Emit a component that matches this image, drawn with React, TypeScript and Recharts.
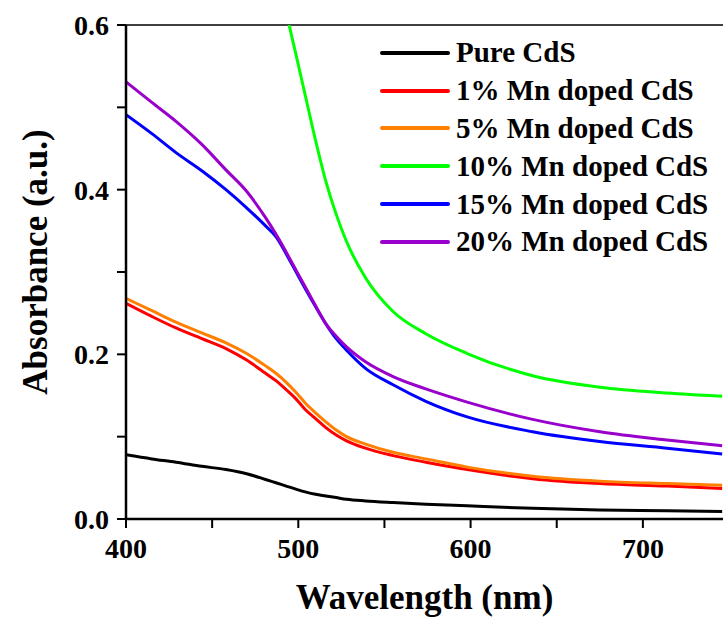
import { LineChart, Line, XAxis, YAxis, Legend, ReferenceLine, Label } from 'recharts'

const wavelength = [400, 415, 429, 444, 458, 470, 481, 487, 493, 499, 504, 510, 516, 522, 528, 539, 555, 574, 598, 636, 675, 714, 746]

const pure = [0.078, 0.073, 0.069, 0.064, 0.06, 0.055, 0.048, 0.044, 0.04, 0.036, 0.033, 0.03, 0.028, 0.026, 0.024, 0.022, 0.02, 0.018, 0.016, 0.013, 0.011, 0.01, 0.009]
const mn1 = [0.262, 0.246, 0.232, 0.219, 0.207, 0.193, 0.177, 0.168, 0.157, 0.145, 0.133, 0.122, 0.111, 0.102, 0.095, 0.086, 0.077, 0.069, 0.06, 0.049, 0.043, 0.04, 0.037]
const mn5 = [0.268, 0.253, 0.239, 0.226, 0.214, 0.201, 0.186, 0.177, 0.166, 0.153, 0.141, 0.129, 0.118, 0.108, 0.1, 0.091, 0.081, 0.073, 0.063, 0.052, 0.046, 0.043, 0.041]
const mn10 = [null, null, null, null, null, null, null, 0.668, 0.615, 0.561, 0.515, 0.46, 0.41, 0.37, 0.337, 0.293, 0.252, 0.225, 0.201, 0.174, 0.16, 0.153, 0.149]
const mn15 = [0.491, 0.468, 0.445, 0.423, 0.4, 0.378, 0.356, 0.343, 0.322, 0.299, 0.28, 0.258, 0.237, 0.219, 0.205, 0.183, 0.163, 0.143, 0.124, 0.106, 0.094, 0.086, 0.079]
const mn20 = [0.531, 0.506, 0.483, 0.455, 0.424, 0.398, 0.366, 0.346, 0.324, 0.301, 0.282, 0.259, 0.237, 0.222, 0.209, 0.191, 0.173, 0.158, 0.142, 0.121, 0.106, 0.096, 0.089]

const xTicks = [400, 450, 500, 550, 600, 650, 700]
const yTicks = [0, 0.1, 0.2, 0.3, 0.4, 0.5, 0.6]

const series = [
  { key: 'pure', name: 'Pure CdS', color: '#000000', values: pure },
  { key: 'mn1', name: '1% Mn doped CdS', color: '#ff0000', values: mn1 },
  { key: 'mn5', name: '5% Mn doped CdS', color: '#ff7f00', values: mn5 },
  { key: 'mn10', name: '10% Mn doped CdS', color: '#00ff00', values: mn10 },
  { key: 'mn15', name: '15% Mn doped CdS', color: '#0000ff', values: mn15 },
  { key: 'mn20', name: '20% Mn doped CdS', color: '#9900cc', values: mn20 },
]

const data = wavelength.map((w, i) => {
  const row: Record<string, number | null> = { w }
  series.forEach((s) => { row[s.key] = s.values[i] })
  return row
})

const FONT = '"Liberation Serif", "Times New Roman", serif'
const tickStyle = { fill: '#000', fontSize: 28, fontWeight: 'bold', fontFamily: FONT }

// minor ticks get no label
const xFormat = (v: number) => (v % 100 === 0 ? String(v) : '')
const yFormat = (v: number) => (Math.round(v * 10) % 2 === 0 ? v.toFixed(1) : '')

// eslint-disable-next-line @typescript-eslint/no-explicit-any
function XTitle({ viewBox }: any) {
  const cx = viewBox.x + viewBox.width / 2
  return (
    <text x={cx} y={609} textAnchor="middle" fontFamily={FONT} fontWeight="bold" fontSize={35} fill="#000">
      Wavelength (nm)
    </text>
  )
}

function YTitle() {
  return (
    <text x={47} y={262} transform="rotate(-90 47 262)" textAnchor="middle" fontFamily={FONT} fontWeight="bold" fontSize={35} fill="#000">
      Absorbance (a.u.)
    </text>
  )
}

function LegendBox() {
  return (
    <div style={{ fontFamily: FONT, fontWeight: 'bold', fontSize: 29, color: '#000' }}>
      {series.map((s) => (
        <div key={s.key} style={{ display: 'flex', alignItems: 'center', height: 37.8, whiteSpace: 'nowrap' }}>
          <span style={{ display: 'inline-block', width: 70, height: 4, background: s.color, borderRadius: 2, marginRight: 6 }} />
          <span>{s.name}</span>
        </div>
      ))}
    </div>
  )
}

export default function App() {
  return (
    <div style={{ position: 'absolute', left: 0, top: 0, width: 723, height: 618, background: '#fff' }}>
      <LineChart width={723} height={618} data={data} margin={{ top: 25, right: 0, left: 0, bottom: 0 }}>
        <XAxis
          dataKey="w"
          type="number"
          domain={[400, 746.5]}
          allowDataOverflow
          ticks={xTicks}
          interval={0}
          tickFormatter={xFormat}
          tick={tickStyle}
          tickLine={{ stroke: '#000', strokeWidth: 2 }}
          tickSize={9}
          tickMargin={10}
          height={99}
          axisLine={{ stroke: '#000', strokeWidth: 2.5 }}
        >
          <Label content={<XTitle />} />
        </XAxis>
        <YAxis
          type="number"
          domain={[0, 0.6]}
          allowDataOverflow
          ticks={yTicks}
          interval={0}
          tickFormatter={yFormat}
          tick={tickStyle}
          tickLine={{ stroke: '#000', strokeWidth: 2 }}
          tickSize={9}
          tickMargin={8}
          width={126}
          axisLine={{ stroke: '#000', strokeWidth: 2.5 }}
        >
          <Label content={<YTitle />} />
        </YAxis>
        <ReferenceLine y={0.6} stroke="#000" strokeWidth={1.5} />
        <Legend
          layout="vertical"
          align="center"
          verticalAlign="middle"
          content={<LegendBox />}
          wrapperStyle={{ left: 380, top: 34, width: 'auto' }}
        />
        {series.map((s) => (
          <Line
            key={s.key}
            dataKey={s.key}
            name={s.name}
            stroke={s.color}
            strokeWidth={3}
            type="monotone"
            dot={false}
            isAnimationActive={false}
          />
        ))}
      </LineChart>
    </div>
  )
}
